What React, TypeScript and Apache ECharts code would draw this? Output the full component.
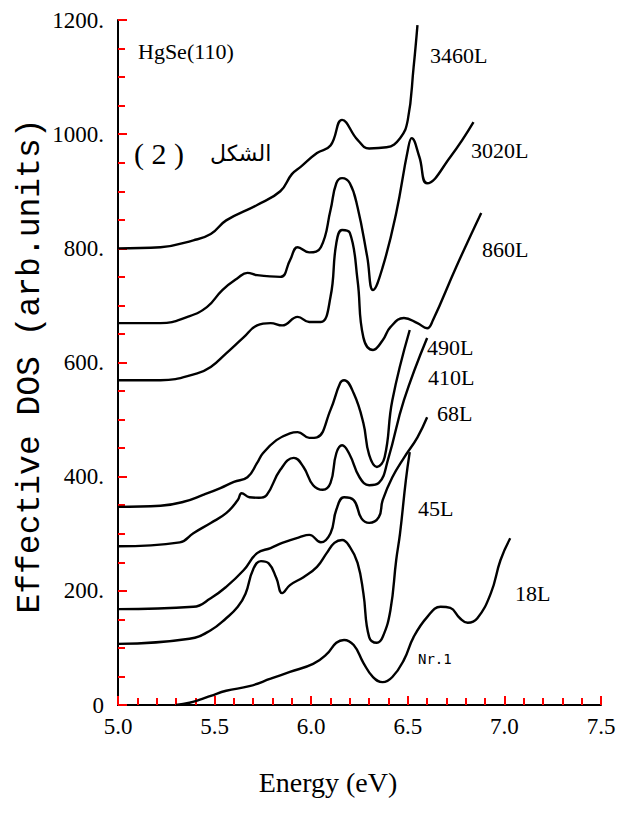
import React, { useEffect, useRef } from "react";
import * as echarts from "echarts";

// Energy (eV) and effective DOS values for each exposure curve
const e3460 = [5.0, 5.22, 5.39, 5.48, 5.56, 5.72, 5.84, 5.9, 5.95, 6.03, 6.1, 6.16, 6.24, 6.3, 6.39, 6.46, 6.5, 6.53, 6.55];
const v3460 = [800, 802, 814, 825, 849, 876, 900, 930, 944, 967, 980, 1025, 990, 975, 977, 993, 1025, 1117, 1191];

const e3020 = [5.0, 5.22, 5.36, 5.46, 5.54, 5.62, 5.67, 5.72, 5.84, 5.89, 5.93, 5.99, 6.05, 6.1, 6.13, 6.16, 6.2, 6.24, 6.29, 6.32, 6.37, 6.44, 6.5, 6.52, 6.56, 6.6, 6.72, 6.84];
const v3020 = [669, 669, 680, 697, 727, 748, 757, 753, 750, 779, 802, 793, 802, 867, 914, 923, 914, 872, 785, 727, 767, 862, 972, 993, 960, 914, 960, 1021];

const e860 = [5.0, 5.22, 5.41, 5.48, 5.56, 5.65, 5.72, 5.79, 5.85, 5.93, 5.99, 6.05, 6.1, 6.13, 6.16, 6.2, 6.24, 6.27, 6.32, 6.37, 6.41, 6.48, 6.55, 6.6, 6.63, 6.75, 6.88];
const v860 = [569, 569, 581, 592, 616, 644, 665, 669, 665, 680, 671, 671, 715, 809, 832, 827, 744, 644, 622, 639, 662, 678, 669, 660, 674, 767, 862];

const e490 = [5.0, 5.22, 5.34, 5.44, 5.53, 5.6, 5.67, 5.72, 5.75, 5.82, 5.89, 5.93, 5.99, 6.03, 6.1, 6.15, 6.17, 6.22, 6.27, 6.3, 6.34, 6.38, 6.42, 6.51];
const v490 = [347, 349, 356, 368, 380, 391, 399, 424, 441, 464, 476, 478, 468, 469, 517, 564, 569, 546, 494, 438, 417, 434, 534, 657];

const e410 = [5.0, 5.32, 5.39, 5.48, 5.56, 5.62, 5.64, 5.68, 5.73, 5.77, 5.84, 5.91, 5.96, 6.01, 6.06, 6.1, 6.13, 6.16, 6.2, 6.25, 6.3, 6.35, 6.4, 6.48, 6.6];
const v410 = [278, 285, 301, 319, 336, 359, 371, 364, 363, 368, 412, 433, 417, 385, 377, 389, 441, 455, 438, 399, 385, 389, 433, 534, 643];

const e68 = [5.0, 5.39, 5.48, 5.56, 5.65, 5.72, 5.79, 5.85, 5.94, 5.99, 6.05, 6.1, 6.13, 6.17, 6.22, 6.26, 6.3, 6.35, 6.37, 6.42, 6.48, 6.55, 6.6];
const v68 = [168, 172, 187, 207, 236, 266, 275, 284, 294, 298, 285, 301, 342, 364, 359, 327, 319, 329, 359, 399, 433, 469, 504];

const e45 = [5.0, 5.37, 5.48, 5.56, 5.62, 5.66, 5.7, 5.74, 5.78, 5.82, 5.85, 5.89, 5.96, 6.03, 6.08, 6.12, 6.16, 6.2, 6.24, 6.27, 6.3, 6.34, 6.37, 6.41, 6.44, 6.46, 6.49, 6.51];
const v45 = [107, 116, 131, 152, 172, 195, 238, 252, 248, 222, 196, 210, 224, 242, 266, 284, 289, 277, 249, 196, 119, 109, 119, 166, 254, 301, 394, 443];

const e18 = [5.3, 5.37, 5.42, 5.48, 5.56, 5.68, 5.79, 5.89, 6.01, 6.08, 6.13, 6.17, 6.22, 6.27, 6.32, 6.37, 6.42, 6.48, 6.53, 6.6, 6.67, 6.72, 6.77, 6.81, 6.86, 6.93, 6.98, 7.03];
const v18 = [0, 4, 9, 16, 25, 33, 46, 58, 72, 89, 109, 114, 105, 74, 49, 40, 49, 79, 119, 154, 172, 170, 152, 144, 152, 196, 254, 292];

const seriesNames = ["3460L", "3020L", "860L", "490L", "410L", "68L", "45L", "18L"];
const seriesE = [e3460, e3020, e860, e490, e410, e68, e45, e18];
const seriesV = [v3460, v3020, v860, v490, v410, v68, v45, v18];

// Axis tick values
const xTicks = [5.0, 5.5, 6.0, 6.5, 7.0, 7.5];
const yTicks = [0, 200, 400, 600, 800, 1000, 1200];

const SERIF = "Liberation Serif";
const INK = "#000000";
const X_MIN = 5.0;
const X_MAX = 7.5;
const Y_MIN = 0;
const Y_MAX = 1200;

export default function App() {
  const ref = useRef<HTMLDivElement>(null);
  useEffect(() => {
    if (!ref.current) return;
    const chart = echarts.init(ref.current, null, { renderer: "svg" });
    const lineSeries = seriesNames.map((name, i) => ({
      name,
      type: "line",
      data: seriesE[i].map((e, j) => [e, seriesV[i][j]]),
      showSymbol: false,
      smooth: 0.45,
      lineStyle: { color: INK, width: 2.4 },
    }));
    chart.setOption({
      animation: false,
      grid: { left: 118, right: 18, top: 20, bottom: 109 },
      xAxis: {
        type: "value",
        min: X_MIN,
        max: X_MAX,
        interval: 0.5,
        axisLine: { show: true, onZero: false, lineStyle: { color: INK, width: 2 } },
        axisTick: { show: true, inside: true, length: 9, lineStyle: { color: "red", width: 2 } },
        minorTick: { show: true, splitNumber: 5, length: 7, lineStyle: { color: "red", width: 2 } },
        splitLine: { show: false },
        axisLabel: {
          color: INK,
          fontFamily: SERIF,
          fontSize: 23,
          margin: 10,
          formatter: (v: number) => (xTicks.includes(v) ? v.toFixed(1) : ""),
        },
      },
      yAxis: {
        type: "value",
        min: Y_MIN,
        max: Y_MAX,
        interval: 200,
        axisLine: { show: true, onZero: false, lineStyle: { color: INK, width: 2 } },
        axisTick: { show: true, inside: true, length: 9, lineStyle: { color: "red", width: 2 } },
        minorTick: { show: true, splitNumber: 4, length: 7, lineStyle: { color: "red", width: 2 } },
        splitLine: { show: false },
        axisLabel: {
          color: INK,
          fontFamily: SERIF,
          fontSize: 23,
          margin: 14,
          formatter: (v: number) => (yTicks.includes(v) ? (v === 0 ? "0" : v + ".") : ""),
        },
      },
      series: lineSeries,
      graphic: [
        { type: "text", left: 138, top: 40, style: { text: "HgSe(110)", font: "22px " + SERIF, fill: INK } },
        { type: "text", left: 134, top: 138, style: { text: "( 2 )", font: "30px " + SERIF, fill: INK } },
        { type: "text", left: 210, top: 142, style: { text: "الشكل", font: "22px 'DejaVu Sans', sans-serif", fill: INK } },
        { type: "text", left: 430, top: 44, style: { text: "3460L", font: "22px " + SERIF, fill: INK } },
        { type: "text", left: 471, top: 139, style: { text: "3020L", font: "22px " + SERIF, fill: INK } },
        { type: "text", left: 482, top: 238, style: { text: "860L", font: "22px " + SERIF, fill: INK } },
        { type: "text", left: 427, top: 336, style: { text: "490L", font: "22px " + SERIF, fill: INK } },
        { type: "text", left: 428, top: 366, style: { text: "410L", font: "22px " + SERIF, fill: INK } },
        { type: "text", left: 437, top: 402, style: { text: "68L", font: "22px " + SERIF, fill: INK } },
        { type: "text", left: 418, top: 497, style: { text: "45L", font: "22px " + SERIF, fill: INK } },
        { type: "text", left: 515, top: 582, style: { text: "18L", font: "22px " + SERIF, fill: INK } },
        { type: "text", left: 418, top: 652, style: { text: "Nr.1", font: "14px 'DejaVu Sans Mono', monospace", fill: INK } },
        {
          type: "text",
          x: 30,
          y: 366,
          rotation: Math.PI / 2,
          style: {
            text: "Effective DOS (arb.units)",
            font: "33px 'Liberation Mono', monospace",
            fill: INK,
            align: "center",
            verticalAlign: "middle",
          },
        },
        {
          type: "text",
          x: 328,
          y: 782,
          style: { text: "Energy (eV)", font: "28px " + SERIF, fill: INK, align: "center", verticalAlign: "middle" },
        },
      ],
    });
    return () => chart.dispose();
  }, []);
  return <div ref={ref} style={{ position: "absolute", left: 0, top: 0, width: 619, height: 814, background: "#fff" }} />;
}
